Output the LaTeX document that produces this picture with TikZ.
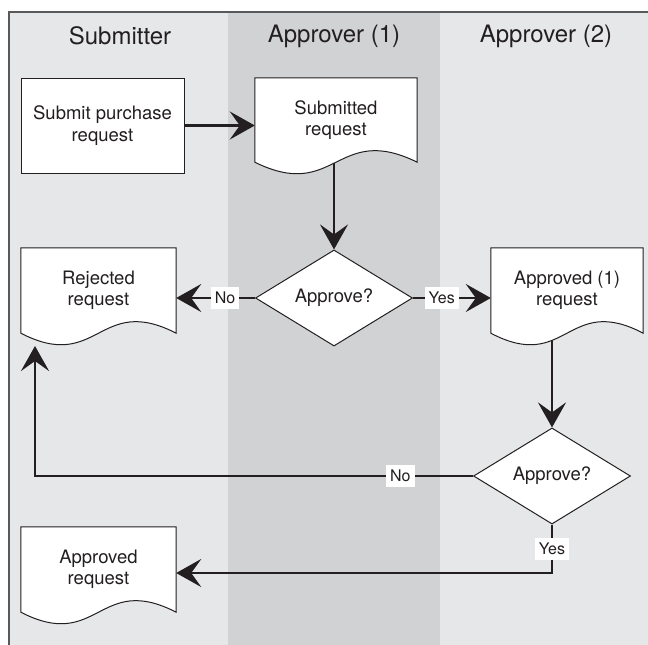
\documentclass[tikz,border=0pt]{standalone}
\usepackage{fontspec}
\setmainfont{TeX Gyre Heros}
\usetikzlibrary{shapes.geometric,arrows.meta,calc}
\pgfdeclarelayer{lanes}
\pgfdeclarelayer{conn}
\pgfdeclarelayer{docs}
\pgfsetlayers{lanes,conn,docs,main}
\definecolor{lanelight}{HTML}{E6E7E9}
\definecolor{lanedark}{HTML}{D1D2D4}
\definecolor{ink}{HTML}{231F20}
\definecolor{frame}{HTML}{58595B}
\newcommand\docoutline[1]{\draw[docline] (#1.north west) -- (#1.south west)
  .. controls ($(#1.south)+(0,40)$) and ($(#1.south)+(0,-40)$) .. (#1.south east)
  -- (#1.north east) -- cycle;}
\begin{document}
\begin{tikzpicture}[x=1pt,y=-1pt,
  every node/.style={font=\fontsize{18.5}{21.5}\selectfont, text=ink},
  procbox/.style={draw=ink, line width=1pt, fill=white, minimum width=163pt, minimum height=95pt, align=center, inner sep=0pt},
  docbox/.style={align=center, inner sep=0pt},
  decision/.style={diamond, draw=ink, line width=1pt, fill=white, minimum width=157pt, minimum height=96pt, inner sep=0pt},
  lanehead/.style={font=\fontsize{24}{28}\selectfont},
  flow/.style={draw=ink, line width=2.7pt, line join=miter, -{Stealth[length=25pt,width=28pt,inset=10pt]}},
  tag/.style={fill=white, font=\fontsize{16}{18}\selectfont, inner xsep=4pt, inner ysep=0pt, minimum height=22pt},
  docline/.style={draw=ink, line width=1pt, fill=white},
  lanefill/.style={fill=#1, draw=none}
]
\useasboundingbox (0,0) rectangle (648,645);
\begin{pgfonlayer}{lanes}
  \fill[white] (0,0) rectangle (648,645);
  \path[lanefill=lanelight] (9,12) rectangle (228,645);
  \path[lanefill=lanedark] (228,12) rectangle (440,645);
  \path[lanefill=lanelight] (440,12) rectangle (648,645);
  \draw[frame, line width=1.2pt] (9,645) -- (9,12) -- (648,12);
\end{pgfonlayer}

% lane headers
\node[lanehead] (h1) at (120,36) {Submitter};
\node[lanehead] (h2) at (334,36) {Approver (1)};
\node[lanehead] (h3) at (546,36) {Approver (2)};

% nodes
\node[procbox] (sub) at (102.5,125.5) {Submit purchase\\request};
\node[docbox, minimum width=162pt, minimum height=84pt] (sdoc) at (336,120) {Submitted\\request};
\node[decision] (dia1) at (334,298) {Approve?};
\node[docbox, minimum width=155pt, minimum height=85pt] (rej) at (98.5,290.5) {Rejected\\request};
\node[docbox, minimum width=152pt, minimum height=85pt] (ap1) at (567,290.5) {Approved (1)\\request};
\node[decision] (dia2) at (552,476) {Approve?};
\node[docbox, minimum width=155pt, minimum height=85pt] (apr) at (98.5,569.5) {Approved\\request};

\begin{pgfonlayer}{docs}
  \docoutline{sdoc}
  \docoutline{rej}
  \docoutline{ap1}
  \docoutline{apr}
\end{pgfonlayer}

\coordinate (rup) at (35,346);
\coordinate (yb) at (0,573);

\begin{pgfonlayer}{conn}
  \draw[flow] (sub.east) -- (sdoc.west |- sub.east);
  \draw[flow] (dia1.north |- sdoc.south) -- (dia1.north);
  \draw[flow] (dia1.west) -- (rej.east |- dia1.west) node[tag, pos=0.38] {No};
  \draw[flow] (dia1.east) -- (ap1.west |- dia1.east) node[tag, pos=0.37] {Yes};
  \draw[flow] (dia2.north |- ap1.south) -- (dia2.north);
  \draw[flow] (dia2.west) -| (rup) node[tag, pos=0.083] {No};
  \draw[flow] (dia2.south) |- (apr.east |- yb) node[tag, pos=0.25] {Yes};
\end{pgfonlayer}
\end{tikzpicture}
\end{document}
